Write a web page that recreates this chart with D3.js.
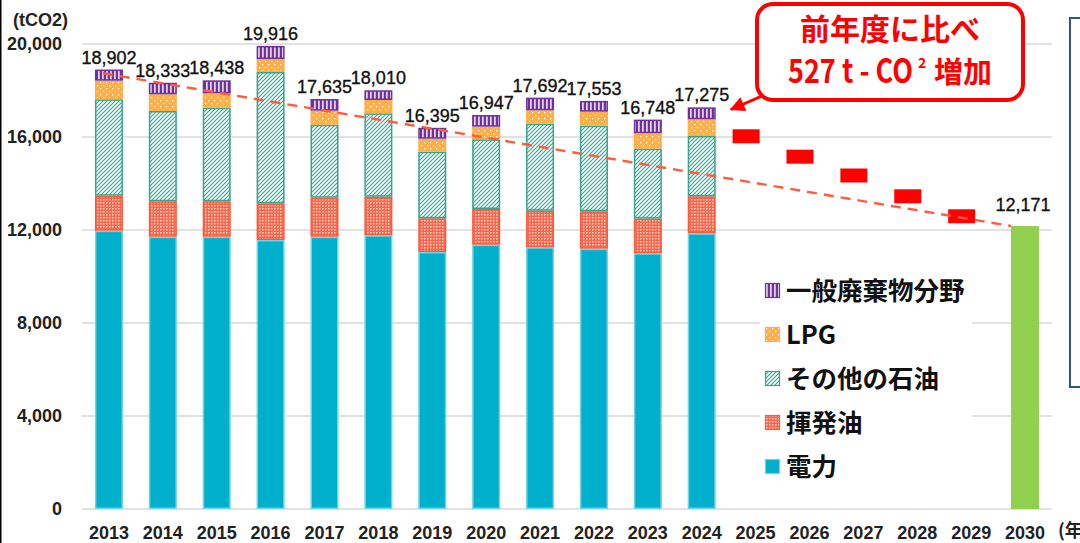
<!DOCTYPE html>
<html><head><meta charset="utf-8">
<script src="https://cdn.jsdelivr.net/npm/d3@7"></script>
<style>
html,body{margin:0;padding:0;background:#fff;}
svg{display:block;}
</style></head>
<body>
<div id="chart"></div>
<script>
// ---- data ----
const years = ["2013","2014","2015","2016","2017","2018","2019","2020","2021","2022","2023","2024","2025","2026","2027","2028","2029","2030"];
const actualYears = ["2013","2014","2015","2016","2017","2018","2019","2020","2021","2022","2023","2024"];
const electricity = [11970,11712,11712,11570,11712,11772,11054,11368,11256,11196,11000,11858]; // 電力
const gasoline    = [1505,1523,1523,1578,1677,1660,1449,1535,1574,1609,1488,1591];          // 揮発油
const otherOil    = [4146,3884,4026,5647,3140,3587,2864,2998,3742,3682,3011,2594];          // その他の石油
const lpg         = [800,718,619,559,602,572,559,542,576,602,662,718];                       // LPG
const waste       = [481,496,558,562,504,419,469,504,544,464,587,514];                       // 一般廃棄物分野
const totals      = [18902,18333,18438,19916,17635,18010,16395,16947,17692,17553,16748,17275];
const targetYear = "2030";
const targetValue = 12171;
const pathYears  = ["2025","2026","2027","2028","2029"];
const pathValues = [16030,15153,14344,13449,12589];
const trendStart = {year:"2013", value:18740};
const trendEnd   = {year:"2030", value:12171};
const yTicks = [0,4000,8000,12000,16000,20000];
const seriesNames = ["電力","揮発油","その他の石油","LPG","一般廃棄物分野"];
const legendOrder = ["一般廃棄物分野","LPG","その他の石油","揮発油","電力"];

// ---- setup ----
const W = 1080, H = 543;
const svg = d3.select("#chart").append("svg").attr("width", W).attr("height", H)
  .style("font-family", "'Liberation Sans', Arial, sans-serif");

const defs = svg.append("defs");
// purple vertical stripes
const pP = defs.append("pattern").attr("id","pWaste").attr("patternUnits","userSpaceOnUse").attr("width",4).attr("height",4);
pP.append("rect").attr("width",4).attr("height",4).attr("fill","#7030A0");
pP.append("rect").attr("x",2.2).attr("width",1.4).attr("height",4).attr("fill","#fff");
// orange with white dots
const pL = defs.append("pattern").attr("id","pLpg").attr("patternUnits","userSpaceOnUse").attr("width",6).attr("height",6);
pL.append("rect").attr("width",6).attr("height",6).attr("fill","#FFAF45");
pL.append("rect").attr("x",1).attr("y",1).attr("width",1.3).attr("height",1.3).attr("fill","#fff");
pL.append("rect").attr("x",4).attr("y",4).attr("width",1.3).attr("height",1.3).attr("fill","#fff");
// teal diagonal
const pO = defs.append("pattern").attr("id","pOther").attr("patternUnits","userSpaceOnUse").attr("width",4).attr("height",4);
pO.append("rect").attr("width",4).attr("height",4).attr("fill","#fff");
pO.append("path").attr("d","M-1,1 L1,-1 M0,4 L4,0 M3,5 L5,3").attr("stroke","#2FA88F").attr("stroke-width",1.15);
// red fine grid
const pG = defs.append("pattern").attr("id","pGas").attr("patternUnits","userSpaceOnUse").attr("width",3).attr("height",3);
pG.append("rect").attr("width",3).attr("height",3).attr("fill","#F9664C");
pG.append("rect").attr("x",1).attr("y",1).attr("width",1.5).attr("height",1.5).attr("fill","#FDD5CC");

const styles = {
  "電力":        {fill:"#00AFCB", stroke:"#6FD3E3"},
  "揮発油":      {fill:"url(#pGas)", stroke:"#FA5A3C"},
  "その他の石油": {fill:"url(#pOther)", stroke:"#36A58E"},
  "LPG":         {fill:"url(#pLpg)", stroke:"#FFAF45"},
  "一般廃棄物分野":{fill:"url(#pWaste)", stroke:"#7030A0"}
};
const seriesData = [electricity, gasoline, otherOil, lpg, waste];

const x = d3.scaleBand().domain(years).range([82,1052]).paddingInner(0.48).paddingOuter(0.24);
const y = d3.scaleLinear().domain([0,20000]).range([509,44]);
const bw = x.bandwidth();

// left edge line
svg.append("line").attr("x1",0.75).attr("x2",0.75).attr("y1",0).attr("y2",H).attr("stroke","#000").attr("stroke-width",1.5);

// gridlines
svg.append("g").selectAll("line").data(yTicks).join("line")
  .attr("x1",82).attr("x2",1052).attr("y1",d=>y(d)).attr("y2",d=>y(d))
  .attr("stroke","#D9D9D9").attr("stroke-width",1.3);

// y tick labels
svg.append("g").selectAll("text").data(yTicks).join("text")
  .attr("x",62).attr("y",d=>y(d)).attr("dy","0.36em").attr("text-anchor","end")
  .attr("font-size",18).attr("font-weight","bold").attr("fill","#222")
  .text(d=>d3.format(",")(d));
svg.append("text").attr("x",13).attr("y",26).attr("font-size",18).attr("font-weight","bold").attr("fill","#222").text("(tCO2)");

// x labels
svg.append("g").selectAll("text").data(years).join("text")
  .attr("x",d=>x(d)+bw/2).attr("y",539).attr("text-anchor","middle")
  .attr("font-size",18).attr("font-weight","bold").attr("fill","#222")
  .text(d=>d);
svg.append("text").attr("x",1058).attr("y",537).attr("font-size",18).attr("font-weight","bold").attr("fill","#222")
  .style("font-family","'Noto Sans CJK JP', sans-serif").text("(年");

// stacked bars
const stackRows = actualYears.map((yr,i)=>{
  const row = {year:yr};
  seriesNames.forEach((s,k)=>row[s]=seriesData[k][i]);
  return row;
});
const stack = d3.stack().keys(seriesNames)(stackRows);
const gBars = svg.append("g");
stack.forEach(layer=>{
  const st = styles[layer.key];
  gBars.append("g").selectAll("rect").data(layer).join("rect")
    .attr("x",d=>x(d.data.year)+0.75).attr("width",bw-1.5)
    .attr("y",d=>y(d[1])+0.75).attr("height",d=>Math.max(0,y(d[0])-y(d[1])-1.5))
    .attr("fill",st.fill).attr("stroke",st.stroke).attr("stroke-width",1.5);
});

// 2030 target bar
svg.append("rect").attr("x",x(targetYear)).attr("width",bw)
  .attr("y",y(targetValue)).attr("height",y(0)-y(targetValue)).attr("fill","#92D050");

// pathway markers
svg.append("g").selectAll("rect").data(pathYears.map((yr,i)=>({yr,v:pathValues[i]}))).join("rect")
  .attr("x",d=>x(d.yr)-9).attr("width",bw-1)
  .attr("y",d=>y(d.v)-7).attr("height",14).attr("fill","#FF0000");

// trend line
svg.append("line")
  .attr("x1",x(trendStart.year)+bw/2-6).attr("y1",y(trendStart.value))
  .attr("x2",x(trendEnd.year)).attr("y2",y(trendEnd.value))
  .attr("stroke","#FF5B3F").attr("stroke-width",2.4).attr("stroke-dasharray","10,7");

// total labels
svg.append("g").selectAll("text").data(actualYears).join("text")
  .attr("x",d=>x(d)+bw/2).attr("y",(d,i)=>y(totals[i])-6).attr("text-anchor","middle")
  .attr("font-size",18).attr("fill","#111").attr("stroke","#111").attr("stroke-width",0.35)
  .text((d,i)=>d3.format(",")(totals[i]));
svg.append("text").attr("x",x(targetYear)+bw/2-2).attr("y",y(targetValue)-15).attr("text-anchor","middle")
  .attr("font-size",18).attr("fill","#111").attr("stroke","#111").attr("stroke-width",0.35)
  .text(d3.format(",")(targetValue));

// legend
const lg = svg.append("g");
lg.append("rect").attr("x",760).attr("y",266).attr("width",212).attr("height",222).attr("fill","#fff");
legendOrder.forEach((name,i)=>{
  const cy = 290.5 + i*44;
  const st = styles[name];
  lg.append("rect").attr("x",765.5).attr("y",cy-7).attr("width",14).attr("height",14)
    .attr("fill",st.fill).attr("stroke",st.stroke).attr("stroke-width",1.2);
  lg.append("text").attr("x",786).attr("y",cy+9).attr("font-size",25.5).attr("font-weight","bold")
    .attr("fill","#111").style("font-family","'Noto Sans CJK JP', sans-serif").text(name);
});

// annotation callout
defs.append("marker").attr("id","arrow").attr("viewBox","0 0 10 10").attr("refX",9).attr("refY",5)
  .attr("markerWidth",5.5).attr("markerHeight",5).attr("orient","auto").attr("markerUnits","strokeWidth")
  .append("path").attr("d","M0,0 L10,5 L0,10 z").attr("fill","#FF0000");
svg.append("line").attr("x1",764).attr("y1",95).attr("x2",731).attr("y2",109.5)
  .attr("stroke","#FF0000").attr("stroke-width",3).attr("marker-end","url(#arrow)");
svg.append("rect").attr("x",757).attr("y",4).attr("width",266).attr("height",96).attr("rx",16)
  .attr("fill","#fff").attr("stroke","#FF0000").attr("stroke-width",4);
const ann = svg.append("g").style("font-family","'Noto Sans CJK JP', sans-serif").attr("fill","#FF0000").attr("font-weight","bold");
ann.append("text").attr("x",890).attr("y",40).attr("text-anchor","middle").attr("font-size",30).text("前年度に比べ");
ann.append("text").attr("x",788).attr("y",83).attr("font-size",33)
  .attr("textLength",125).attr("lengthAdjust","spacingAndGlyphs").text("527 t - CO");
ann.append("text").attr("x",918).attr("y",68).attr("font-size",14).text("2");
ann.append("text").attr("x",934).attr("y",83).attr("font-size",29).text("増加");

// right side box (cut off)
svg.append("rect").attr("x",1070).attr("y",18).attr("width",30).attr("height",369)
  .attr("fill","none").attr("stroke","#2E5C6E").attr("stroke-width",2);
</script>
</body></html>
